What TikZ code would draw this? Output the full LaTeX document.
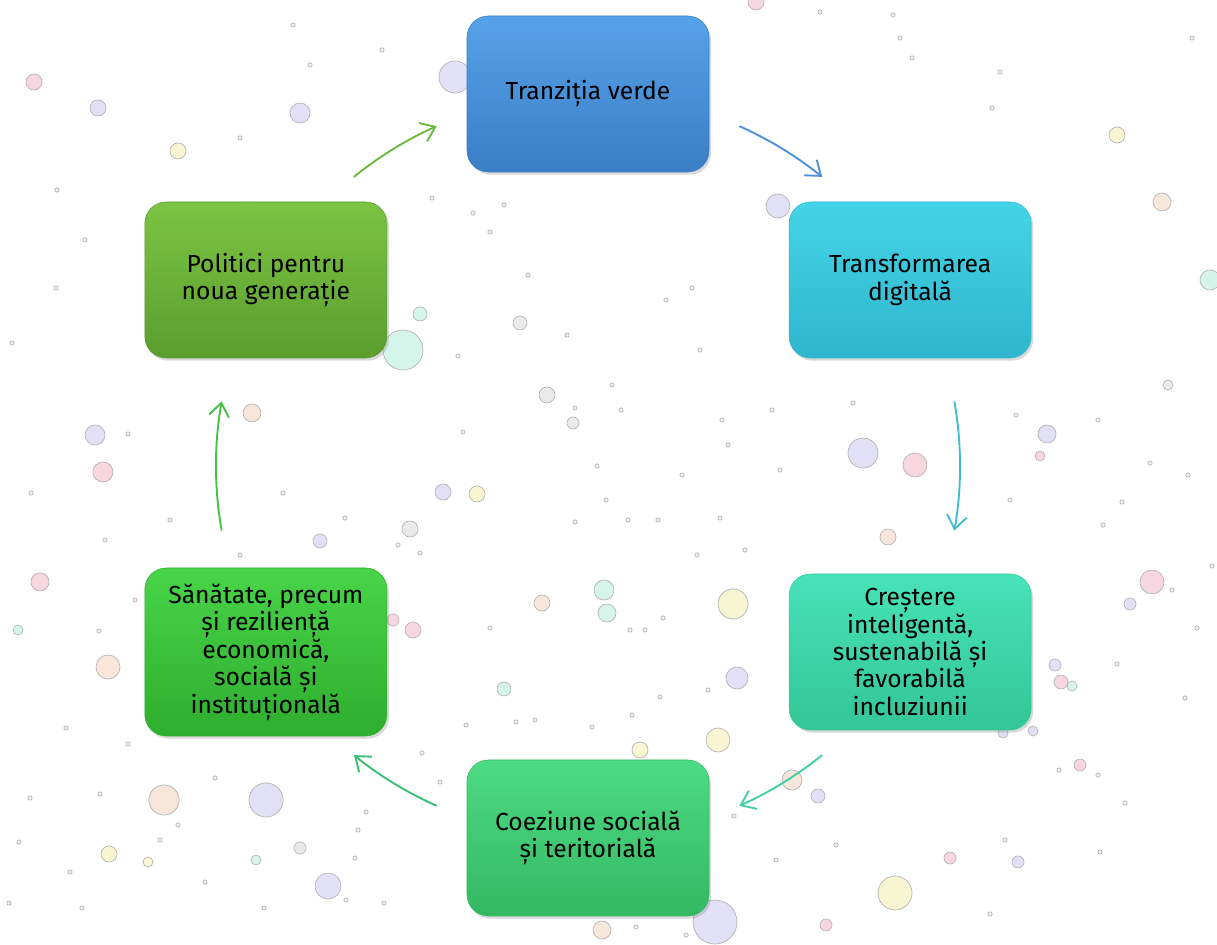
\documentclass[tikz,border=0pt]{standalone}
\usepackage{fontspec}
\setmainfont{Fira Sans}
\usetikzlibrary{arrows.meta,shadows,calc}
\definecolor{b1t}{HTML}{56A2E8}\definecolor{b1b}{HTML}{3A7EC6}
\definecolor{b2t}{HTML}{44D4E6}\definecolor{b2b}{HTML}{2FB6CE}
\definecolor{b3t}{HTML}{48E2B8}\definecolor{b3b}{HTML}{33C696}
\definecolor{b4t}{HTML}{4EDA84}\definecolor{b4b}{HTML}{34B862}
\definecolor{b5t}{HTML}{48D448}\definecolor{b5b}{HTML}{2EAE2E}
\definecolor{b6t}{HTML}{7CC444}\definecolor{b6b}{HTML}{5A9E2E}
\definecolor{a1}{HTML}{4A90D9}\definecolor{a2}{HTML}{40BCD4}
\definecolor{a3}{HTML}{3FCFA0}\definecolor{a4}{HTML}{38C070}
\definecolor{a5}{HTML}{46C046}\definecolor{a6}{HTML}{6CB840}
\definecolor{bpink}{HTML}{F4C6D2}\definecolor{blav}{HTML}{D6D4F4}
\definecolor{byel}{HTML}{F4F2C0}\definecolor{bmint}{HTML}{C4F2E2}
\definecolor{bpeach}{HTML}{F6DCCC}\definecolor{bgray}{HTML}{E2E2E6}
\begin{document}
\begin{tikzpicture}[x=0.75pt,y=0.75pt,
  box/.style={rounded corners=16pt, minimum width=181.5pt, minimum height=117pt,
    align=center, font=\fontsize{18.5}{20.6}\selectfont, text=black, inner sep=0pt,
    line width=0.4pt,
    drop shadow={shadow xshift=1.5pt,shadow yshift=-2pt,opacity=0.3}},
  cyc/.style={-{Straight Barb[length=10pt,width=15pt]}, line width=1.4pt},
  bub/.style={draw=gray!60, line width=0.5pt, fill=#1, fill opacity=0.7},
  dot/.style={draw=gray!65, line width=0.4pt, fill=gray!15}
]
\useasboundingbox (0,0) rectangle (1217,945);
\fill[white] (0,0) rectangle (1217,945);

% background bubbles (positions measured from the top)
\begin{scope}[shift={(0,945)},yscale=-1]
\foreach \x/\y/\r/\c in {34/82/8/bpink,98/108/8/blav,300/113/10/blav,455/77/16/blav,
  178/151/8/byel,756/2/8/bpink,1117/135/8/byel,1162/202/9/bpeach,778/206/12/blav,
  1210/280/10/bmint,403/350/20/bmint,520/323/7/bgray,547/395/8/bgray,252/413/9/bpeach,
  95/435/10/blav,103/472/10/bpink,863/453/15/blav,915/465/12/bpink,1047/434/9/blav,
  443/492/8/blav,477/494/8/byel,410/529/8/bgray,320/541/7/blav,888/537/8/bpeach,
  40/582/9/bpink,604/590/10/bmint,607/613/9/bmint,733/604/15/byel,542/603/8/bpeach,
  1152/582/12/bpink,413/630/8/bpink,393/620/6/bpink,108/667/12/bpeach,737/678/11/blav,
  504/689/7/bmint,718/740/12/byel,640/750/8/byel,266/800/17/blav,164/800/15/bpeach,
  328/886/13/blav,109/854/8/byel,895/893/17/byel,715/922/22/blav,602/930/9/bpeach,
  792/780/10/bpeach,818/796/7/blav,1061/682/7/bpink,420/314/7/bmint,573/423/6/bgray,
  300/848/6/bgray,1130/604/6/blav,1055/665/6/blav,1080/765/6/bpink,950/858/6/bpink,
  1018/862/6/blav,826/925/6/bpink,1168/385/5/bgray,1040/456/5/bpink,18/630/5/bmint,
  256/860/5/bmint,148/862/5/byel,1072/686/5/bmint,1003/733/5/blav,1033/731/5/blav}
  \draw[bub=\c] (\x,\y) circle[radius=\r];
\foreach \x/\y in {293/25,310/65,382/50,893/15,900/38,912/58,1000/72,992/108,1192/38,
  820/12,57/190,85/240,56/288,12/343,240/138,248/204,273/238,284/252,432/198,473/213,
  490/232,504/205,528/275,567/335,666/300,692/288,700/350,612/385,575/408,621/410,
  722/420,728/445,682/475,597/466,606/500,575/522,628/520,658/520,720/518,745/550,
  697/555,780/470,772/410,853/403,1016/415,1098/420,1122/502,1103/525,1150/463,
  1188/475,31/493,99/631,128/434,105/540,128/744,30/798,70/872,82/908,178/825,
  215/778,240/555,283/493,345/518,398/545,420/553,422/753,440/782,466/725,463/432,
  458/356,490/628,516/722,535/720,592/727,632/715,660/697,708/690,630/630,645/630,
  663/618,1059/770,1125/803,1098/775,1100/852,1005/840,990/914,836/845,776/860,
  686/935,636/927,560/907,535/890,346/900,355/858,358/830,366/812,384/903,264/908,
  205/882,160/840,100/794,66/728,19/842,9/903,1185/698,1197/628,1172/590,1212/566,
  1117/664,734/816,1010/500,950/640,170/520,135/600}
  \draw[dot] (\x,\y) circle[radius=2.2];
\end{scope}

\coordinate (O) at (588,479);
\node[box, top color=b1t, bottom color=b1b, draw=b1b] (n1) at ($(O)+(90:372)$) {Tranziția verde};
\node[box, top color=b2t, bottom color=b2b, draw=b2b] (n2) at ($(O)+(30:372)$) {Transformarea\\digitală};
\node[box, top color=b3t, bottom color=b3b, draw=b3b] (n3) at ($(O)+(-30:372)$) {Creștere\\inteligentă,\\sustenabilă și\\favorabilă\\incluziunii};
\node[box, top color=b4t, bottom color=b4b, draw=b4b] (n4) at ($(O)+(-90:372)$) {Coeziune socială\\și teritorială};
\node[box, top color=b5t, bottom color=b5b, draw=b5b, minimum height=126pt] (n5) at ($(O)+(-150:372)$) {Sănătate, precum\\și reziliență\\economică,\\socială și\\instituțională};
\node[box, top color=b6t, bottom color=b6b, draw=b6b] (n6) at ($(O)+(150:372)$) {Politici pentru\\noua generație};

\coordinate (s12) at ($(O)+(66:372)$);
\coordinate (s23) at ($(O)+(10:372)$);
\coordinate (s34) at ($(O)+(-51:372)$);
\coordinate (s45) at ($(O)+(-114:372)$);
\coordinate (s56) at ($(O)+(-170:372)$);
\coordinate (s61) at ($(O)+(129:372)$);
\draw[cyc, a1] (s12) arc[start angle=66, end angle=51, radius=372];
\draw[cyc, a2] (s23) arc[start angle=10, end angle=-10, radius=372];
\draw[cyc, a3] (s34) arc[start angle=-51, end angle=-66, radius=372];
\draw[cyc, a4] (s45) arc[start angle=-114, end angle=-129, radius=372];
\draw[cyc, a5] (s56) arc[start angle=-170, end angle=-190, radius=372];
\draw[cyc, a6] (s61) arc[start angle=129, end angle=114, radius=372];
\end{tikzpicture}
\end{document}
